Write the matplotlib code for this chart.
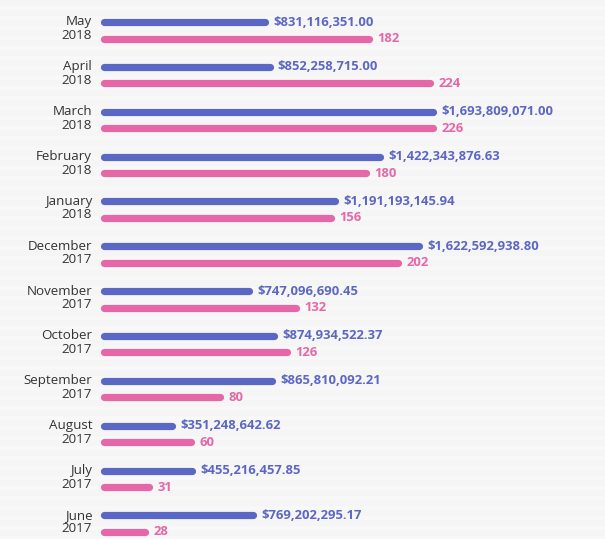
import matplotlib.pyplot as plt

months = ["May", "April", "March", "February", "January", "December",
          "November", "October", "September", "August", "July", "June"]
years = ["2018", "2018", "2018", "2018", "2018", "2017",
         "2017", "2017", "2017", "2017", "2017", "2017"]
amounts = [831116351.00, 852258715.00, 1693809071.00, 1422343876.63,
           1191193145.94, 1622592938.80, 747096690.45, 874934522.37,
           865810092.21, 351248642.62, 455216457.85, 769202295.17]
counts = [182, 224, 226, 180, 156, 202, 132, 126, 80, 60, 31, 28]

blue = "#5b67c4"
pink = "#e667a7"

W, H = 605, 539
fig = plt.figure(figsize=(W / 100, H / 100), dpi=100, facecolor="#f8f8f8")

# faint stripes in the background
for y0 in range(0, H, 10):
    fig.patches.append(plt.Rectangle((0, 1 - (y0 + 5) / H), 1, 5 / H,
                                     transform=fig.transFigure,
                                     color="#f5f5f5", zorder=-1))

x0, x1 = 104, 433  # bar start and end of the longest bar, in pixels
ax = fig.add_axes([x0 / W, 0, (x1 - x0) / W, 1])
ax.set_facecolor("none")
ax.set_xlim(0, 1)
top, step = 22, 44.85
ax.set_ylim((H - top) / step, -top / step)
ax.axis("off")

amax = max(amounts)
cmax = max(counts)
off = 16.5 / step
for i in range(len(months)):
    a = amounts[i] / amax
    c = counts[i] / cmax
    ax.plot([0, a], [i, i], color=blue, lw=5.2, solid_capstyle="round", clip_on=False)
    ax.plot([0, c], [i + off, i + off], color=pink, lw=5.2, solid_capstyle="round", clip_on=False)
    ax.annotate("${:,.2f}".format(amounts[i]), (a, i), xytext=(6, 0), textcoords="offset points",
                ha="left", va="center", color=blue, fontsize=9.4, fontweight="bold",
                family="Open Sans")
    ax.annotate(str(counts[i]), (c, i + off), xytext=(6, 0), textcoords="offset points",
                ha="left", va="center", color=pink, fontsize=9.4, fontweight="bold",
                family="Open Sans")
    ax.annotate(months[i], (0, i), xytext=(-8.5, 0), textcoords="offset points",
                ha="right", va="center", color="#333333", fontsize=9.6, family="Open Sans")
    ax.annotate(years[i], (0, i + 13.5 / step), xytext=(-8.5, 0), textcoords="offset points",
                ha="right", va="center", color="#333333", fontsize=9.6, family="Open Sans")

fig.savefig("out.png", dpi=100, facecolor=fig.get_facecolor())
